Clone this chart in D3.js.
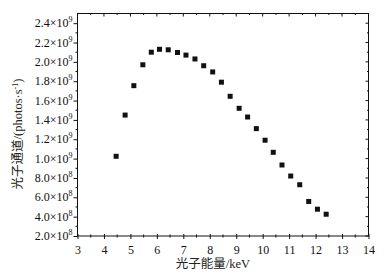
<!DOCTYPE html>
<html>
<head>
<meta charset="utf-8">
<script src="https://cdn.jsdelivr.net/npm/d3@7"></script>
<style>
  body { margin: 0; background: #fff; }
</style>
</head>
<body>
<div id="container"></div>
<script>
// photon energy (keV) and photon flux (photos/s)
const energy = [4.46, 4.80, 5.13, 5.47, 5.79, 6.10, 6.43, 6.78, 7.10, 7.44, 7.77, 8.11, 8.44,
  8.77, 9.11, 9.43, 9.76, 10.09, 10.40, 10.73, 11.06, 11.40, 11.74, 12.07, 12.40];
const flux = [1.024e9, 1.45e9, 1.754e9, 1.97e9, 2.10e9, 2.13e9, 2.125e9, 2.097e9, 2.07e9, 2.03e9,
  1.96e9, 1.896e9, 1.79e9, 1.644e9, 1.52e9, 1.43e9, 1.31e9, 1.19e9, 1.065e9, 0.934e9,
  0.82e9, 0.73e9, 0.557e9, 0.477e9, 0.425e9];

const xTicks = [3, 4, 5, 6, 7, 8, 9, 10, 11, 12, 13, 14];
const yTicks = [2e8, 4e8, 6e8, 8e8, 1e9, 1.2e9, 1.4e9, 1.6e9, 1.8e9, 2.0e9, 2.2e9, 2.4e9];

const width = 386, height = 277;
const margin = { top: 13.5, right: 17.5, bottom: 41, left: 77.5 };
const innerW = width - margin.left - margin.right;
const innerH = height - margin.top - margin.bottom;

const serif = "'Liberation Serif', 'Times New Roman', serif";
const cjk = "'Liberation Serif', 'Noto Sans CJK SC', serif";

const svg = d3.select("#container")
  .append("svg")
  .attr("width", width)
  .attr("height", height)
  .style("font-family", serif);

const plot = svg.append("g")
  .attr("transform", `translate(${margin.left},${margin.top})`);

const x = d3.scaleLinear().domain([3, 14]).range([0, innerW]);
const y = d3.scaleLinear().domain([2e8, 2.5e9]).range([innerH, 0]);

// minor ticks
const xMinor = d3.range(3.5, 14, 1);
const yMinor = d3.range(3e8, 2.5e9, 2e8);

// frame
plot.append("rect")
  .attr("width", innerW)
  .attr("height", innerH)
  .attr("fill", "none")
  .attr("stroke", "#111")
  .attr("stroke-width", 1);

function sci(v) {
  const e = Math.floor(Math.log10(v) + 1e-9);
  const m = v / Math.pow(10, e);
  return { m: m.toFixed(1), e: e };
}

// bottom axis
const xAxis = plot.append("g")
  .attr("transform", `translate(0,${innerH})`)
  .call(d3.axisBottom(x).tickValues(xTicks).tickSize(4).tickFormat(d3.format("d")));
xAxis.select(".domain").remove();
xAxis.selectAll(".tick line").attr("y1", -2).attr("y2", 3).attr("stroke", "#111");
xAxis.selectAll(".tick text").attr("font-size", 12).attr("font-family", serif).attr("fill", "#111").attr("dy", "0.95em");
xAxis.selectAll(".minor").data(xMinor).enter().append("line")
  .attr("x1", d => x(d)).attr("x2", d => x(d))
  .attr("y1", -1.5).attr("y2", 1.5).attr("stroke", "#111");

// top ticks (inward)
const topTicks = plot.append("g");
topTicks.selectAll("line.maj").data(xTicks).enter().append("line")
  .attr("x1", d => x(d)).attr("x2", d => x(d)).attr("y1", 0).attr("y2", 3).attr("stroke", "#111");
topTicks.selectAll("line.min").data(xMinor).enter().append("line")
  .attr("x1", d => x(d)).attr("x2", d => x(d)).attr("y1", 0).attr("y2", 1.5).attr("stroke", "#111");

// left axis
const yAxis = plot.append("g")
  .call(d3.axisLeft(y).tickValues(yTicks).tickSize(4).tickFormat(""));
yAxis.select(".domain").remove();
yAxis.selectAll(".tick line").attr("stroke", "#111");
yAxis.selectAll(".minor").data(yMinor).enter().append("line")
  .attr("x1", -2).attr("x2", 0)
  .attr("y1", d => y(d)).attr("y2", d => y(d)).attr("stroke", "#111");

yTicks.forEach(v => {
  const s = sci(v);
  const t = plot.append("text")
    .attr("x", -5)
    .attr("y", y(v) + 4)
    .attr("text-anchor", "end")
    .attr("font-size", 12)
    .attr("fill", "#111");
  t.append("tspan").text(s.m + "×10");
  t.append("tspan").attr("dy", -5).attr("font-size", 8).text(s.e);
});

// right ticks (inward)
const rightTicks = plot.append("g").attr("transform", `translate(${innerW},0)`);
rightTicks.selectAll("line.maj").data(yTicks).enter().append("line")
  .attr("x1", -3).attr("x2", 0).attr("y1", d => y(d)).attr("y2", d => y(d)).attr("stroke", "#111");
rightTicks.selectAll("line.min").data(yMinor).enter().append("line")
  .attr("x1", -1.5).attr("x2", 0).attr("y1", d => y(d)).attr("y2", d => y(d)).attr("stroke", "#111");

// points
const pts = energy.map((e, i) => ({ e, f: flux[i] }));
plot.selectAll("rect.pt")
  .data(pts)
  .enter()
  .append("rect")
  .attr("class", "pt")
  .attr("x", d => x(d.e) - 2.5)
  .attr("y", d => y(d.f) - 2.5)
  .attr("width", 5)
  .attr("height", 5)
  .attr("fill", "#111");

// axis titles
svg.append("text")
  .attr("x", 213)
  .attr("y", 268)
  .attr("text-anchor", "middle")
  .attr("font-size", 12.5)
  .attr("font-family", cjk)
  .attr("fill", "#222")
  .text("光子能量/keV");

const yt = svg.append("text")
  .attr("transform", `translate(22,134) rotate(-90)`)
  .attr("text-anchor", "middle")
  .attr("font-size", 12.5)
  .attr("font-family", cjk)
  .attr("fill", "#222");
yt.append("tspan").text("光子通道/(photos·s");
yt.append("tspan").attr("dy", -4).attr("font-size", 8).text("-1");
yt.append("tspan").attr("dy", 4).text(")");
</script>
</body>
</html>
